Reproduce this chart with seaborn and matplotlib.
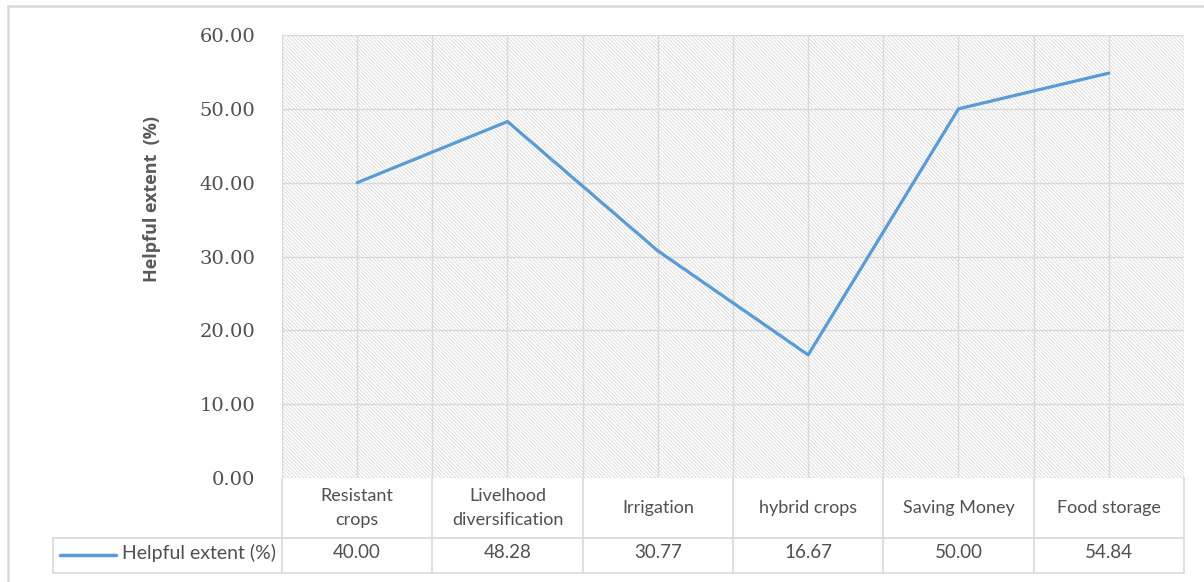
import numpy as np
import pandas as pd
import matplotlib
matplotlib.use("Agg")
import matplotlib.pyplot as plt
from matplotlib.patches import Rectangle
from matplotlib.lines import Line2D
import seaborn as sns

categories = ["Resistant\ncrops", "Livelhood\ndiversification", "Irrigation",
              "hybrid crops", "Saving Money", "Food storage"]
helpful_extent = [40.00, 48.28, 30.77, 16.67, 50.00, 54.84]
series_name = "Helpful extent (%)"
y_ticks = [0, 10, 20, 30, 40, 50, 60]

sns.set_theme(style="white")
plt.rcParams["font.family"] = ["Lato", "DejaVu Sans"]
plt.rcParams["hatch.linewidth"] = 0.55

LINE = "#5B9BD5"
GRID = "#D9D9D9"
TEXT = "#595959"

W, H = 1204, 582
fig = plt.figure(figsize=(W / 100, H / 100), dpi=100)
left, right, top, bottom = 282, 1184, 35, 478
ax = fig.add_axes([left / W, 1 - bottom / H, (right - left) / W, (bottom - top) / H])

df = pd.DataFrame({"pos": np.arange(len(categories)), "value": helpful_extent})

# hatched plot-area background
ax.patch.set_facecolor("white")
ax.add_patch(Rectangle((0, 0), 1, 1, transform=ax.transAxes, facecolor="white",
                       edgecolor="#D6D6D6", linewidth=0, hatch="\\" * 9, zorder=0))

sns.lineplot(data=df, x="pos", y="value", ax=ax, color=LINE, linewidth=2.3,
             zorder=3, legend=False)

ax.set_xlim(-0.5, len(categories) - 0.5)
ax.set_ylim(0, 60)
ax.set_yticks(y_ticks)
ax.set_yticklabels([f"{v:.2f}" for v in y_ticks], family="DejaVu Serif",
                   fontsize=14, color="#505050")
ax.tick_params(axis="y", length=0, pad=19)
ax.set_xticks(np.arange(len(categories)))
ax.set_xticks(np.arange(len(categories) + 1) - 0.5, minor=True)
ax.set_xticklabels([])
ax.tick_params(axis="x", which="both", length=0)
ax.grid(True, axis="y", color=GRID, linewidth=1.0, zorder=1)
ax.grid(True, axis="x", which="both", color=GRID, linewidth=1.0, zorder=1)
ax.set_axisbelow(True)
for s in ax.spines.values():
    s.set_visible(False)
ax.set_xlabel("")
ax.set_ylabel("")

# y-axis title
fig.text(152 / W, 1 - 199 / H, "Helpful extent  (%)", rotation=90, ha="center",
         va="center", fontsize=13, fontweight="bold", color=TEXT,
         family=["Open Sans", "DejaVu Sans"])

# data table under the plot area
ph = bottom - top
def ay(py):
    return -(py - bottom) / ph

row1_bot = ay(538)
row2_bot = ay(573)
legend_left = (53 - left) / (right - left)
xt = ax.get_xaxis_transform()
n = len(categories)
line_kw = dict(color=GRID, linewidth=1.2, clip_on=False, zorder=1)

# vertical cell borders
for b in np.arange(n + 1) - 0.5:
    ax.add_line(Line2D([b, b], [0, row2_bot], transform=xt, **line_kw))
ax.add_line(Line2D([legend_left, legend_left], [row1_bot, row2_bot],
                   transform=ax.transAxes, **line_kw))
# horizontal cell borders
ax.add_line(Line2D([legend_left, 1], [row1_bot, row1_bot], transform=ax.transAxes, **line_kw))
ax.add_line(Line2D([legend_left, 1], [row2_bot, row2_bot], transform=ax.transAxes, **line_kw))

for i, (cat, val) in enumerate(zip(categories, helpful_extent)):
    ax.text(i, ay(508), cat, transform=xt, ha="center", va="center",
            fontsize=13, color="#505050", linespacing=1.55, clip_on=False)
    ax.text(i, ay(553), f"{val:.2f}", transform=xt, ha="center", va="center",
            fontsize=13.5, color="#505050", clip_on=False)

# legend key in the table
kx0 = (60 - left) / (right - left)
kx1 = (116 - left) / (right - left)
ax.add_line(Line2D([kx0, kx1], [ay(555), ay(555)], transform=ax.transAxes,
                   color=LINE, linewidth=2.5, clip_on=False, solid_capstyle="round"))
ax.text((276 - left) / (right - left), ay(553), series_name, transform=ax.transAxes,
        ha="right", va="center", fontsize=14, color="#505050", clip_on=False)

# chart frame
fig.add_artist(Line2D([8 / W, 1], [1 - 6 / H, 1 - 6 / H], transform=fig.transFigure,
                      color=GRID, linewidth=1.8))
fig.add_artist(Line2D([8 / W, 8 / W], [0, 1 - 6 / H], transform=fig.transFigure,
                      color=GRID, linewidth=1.8))

fig.savefig("out.png", dpi=100, facecolor="white")
